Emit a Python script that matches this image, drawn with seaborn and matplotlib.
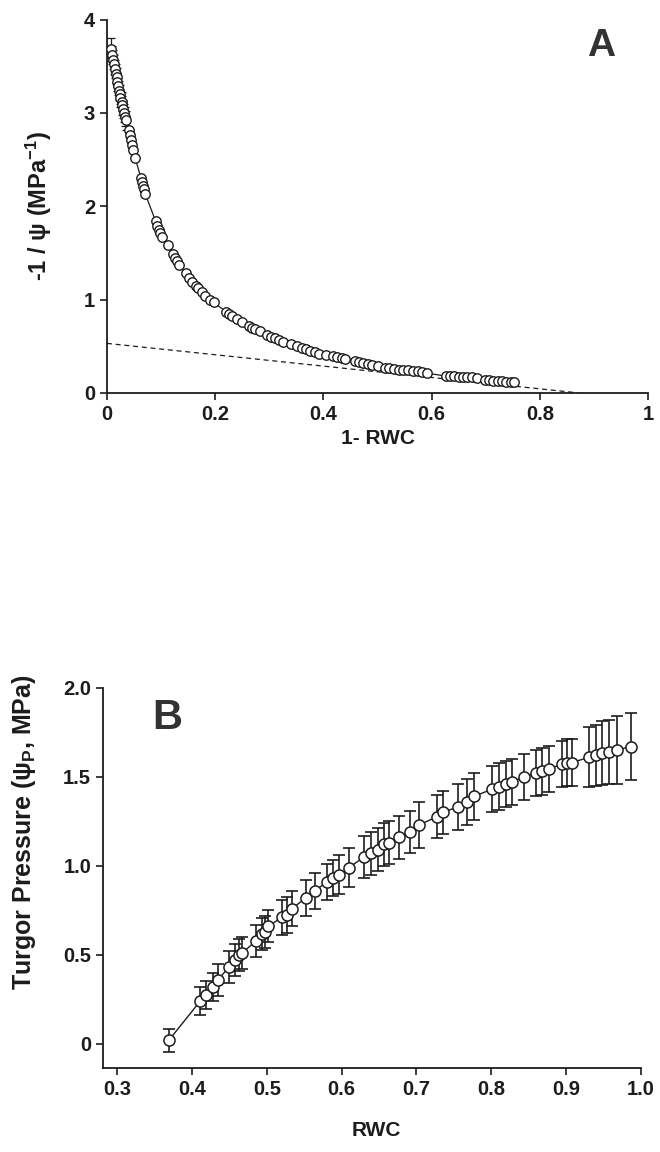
import numpy as np
import pandas as pd
import matplotlib
matplotlib.use("Agg")
import matplotlib.pyplot as plt
import seaborn as sns

sns.set_style("ticks")
plt.rcParams["font.family"] = ["Liberation Sans", "DejaVu Sans"]
plt.rcParams["font.weight"] = "bold"
plt.rcParams["mathtext.fontset"] = "custom"
plt.rcParams["mathtext.rm"] = "Liberation Sans:bold"
plt.rcParams["mathtext.it"] = "Liberation Sans:bold"
plt.rcParams["mathtext.bf"] = "Liberation Sans:bold"
plt.rcParams["mathtext.sf"] = "Liberation Sans"   # psi fino, como en el original
plt.rcParams["mathtext.default"] = "rm"

INK = "#1c1c1c"

# ============================================================
# Datos panel A: -1/psi frente a 1-RWC
# ============================================================
one_minus_rwc = [
    0.008, 0.010, 0.012, 0.013, 0.015, 0.016, 0.018, 0.019, 0.021, 0.022,
    0.024, 0.025, 0.027, 0.028, 0.030, 0.031, 0.033, 0.035,
    0.041, 0.043, 0.045, 0.047, 0.049, 0.052, 0.063, 0.065, 0.067, 0.069,
    0.071, 0.090, 0.093, 0.096, 0.099, 0.102, 0.112, 0.122, 0.126, 0.130,
    0.134, 0.146, 0.152, 0.158, 0.164, 0.168, 0.175, 0.182, 0.190, 0.197,
    0.220, 0.226, 0.232, 0.240, 0.250, 0.262, 0.268, 0.274, 0.282, 0.296,
    0.304, 0.310, 0.318, 0.326, 0.340, 0.352, 0.360, 0.368, 0.376, 0.384,
    0.392, 0.404, 0.418, 0.426, 0.434, 0.440, 0.458, 0.466, 0.474, 0.482,
    0.490, 0.500, 0.514, 0.522, 0.530, 0.540, 0.548, 0.556, 0.566, 0.574,
    0.582, 0.592, 0.626, 0.634, 0.642, 0.650, 0.658, 0.666, 0.674, 0.684,
    0.698, 0.706, 0.714, 0.722, 0.730, 0.738, 0.746, 0.752,
]
inv_psi = [
    3.68, 3.62, 3.57, 3.52, 3.47, 3.42, 3.38, 3.33, 3.29, 3.24,
    3.20, 3.16, 3.12, 3.08, 3.04, 3.00, 2.96, 2.92,
    2.82, 2.76, 2.71, 2.66, 2.60, 2.52, 2.30, 2.26, 2.22, 2.18,
    2.13, 1.84, 1.79, 1.75, 1.71, 1.67, 1.58, 1.49, 1.45, 1.41,
    1.37, 1.28, 1.23, 1.19, 1.15, 1.12, 1.08, 1.04, 1.00, 0.97,
    0.87, 0.85, 0.82, 0.79, 0.76, 0.72, 0.70, 0.68, 0.66, 0.62,
    0.60, 0.59, 0.57, 0.55, 0.52, 0.50, 0.48, 0.47, 0.45, 0.44,
    0.42, 0.41, 0.39, 0.38, 0.37, 0.36, 0.34, 0.33, 0.32, 0.31,
    0.30, 0.29, 0.27, 0.27, 0.26, 0.25, 0.25, 0.24, 0.23, 0.23,
    0.22, 0.21, 0.18, 0.18, 0.18, 0.17, 0.17, 0.17, 0.17, 0.16,
    0.14, 0.14, 0.13, 0.13, 0.13, 0.12, 0.12, 0.12,
]
# barras de error solo en los primeros puntos
err_a_x = one_minus_rwc[:18]
err_a_y = inv_psi[:18]
err_a = [0.12, 0.10, 0.10, 0.10, 0.10, 0.10, 0.10, 0.10, 0.10, 0.10,
         0.10, 0.10, 0.10, 0.10, 0.10, 0.10, 0.10, 0.10]

# recta extrapolada (punteada)
dash_x = [0.0, 0.87]
dash_y = [0.53, 0.0]

# ============================================================
# Datos panel B: presion de turgor frente a RWC
# ============================================================
rwc = [
    0.369, 0.411, 0.419, 0.428, 0.435, 0.449, 0.457, 0.463, 0.467, 0.486,
    0.493, 0.497, 0.502, 0.520, 0.527, 0.534, 0.552, 0.565, 0.580, 0.589,
    0.597, 0.610, 0.630, 0.639, 0.648, 0.656, 0.663, 0.677, 0.691, 0.704,
    0.727, 0.735, 0.755, 0.768, 0.777, 0.801, 0.811, 0.820, 0.828, 0.844,
    0.860, 0.868, 0.877, 0.895, 0.901, 0.908, 0.931, 0.940, 0.948, 0.957,
    0.968, 0.987,
]
turgor = [
    0.02, 0.24, 0.275, 0.32, 0.36, 0.43, 0.47, 0.50, 0.51, 0.58,
    0.615, 0.63, 0.66, 0.71, 0.725, 0.76, 0.82, 0.86, 0.91, 0.93,
    0.95, 0.99, 1.05, 1.07, 1.09, 1.12, 1.13, 1.16, 1.19, 1.23,
    1.275, 1.30, 1.33, 1.36, 1.39, 1.43, 1.445, 1.46, 1.47, 1.50,
    1.52, 1.53, 1.545, 1.57, 1.58, 1.58, 1.61, 1.62, 1.635, 1.64,
    1.65, 1.67,
]
turgor_err = [
    0.065, 0.08, 0.08, 0.08, 0.09, 0.09, 0.09, 0.09, 0.09, 0.09,
    0.09, 0.09, 0.09, 0.10, 0.10, 0.10, 0.10, 0.10, 0.10, 0.10,
    0.11, 0.11, 0.12, 0.12, 0.12, 0.12, 0.12, 0.12, 0.12, 0.13,
    0.12, 0.12, 0.13, 0.13, 0.13, 0.13, 0.13, 0.13, 0.13, 0.13,
    0.13, 0.13, 0.13, 0.13, 0.13, 0.13, 0.17, 0.17, 0.18, 0.18,
    0.19, 0.19,
]

df_a = pd.DataFrame({"x": one_minus_rwc, "y": inv_psi})
df_b = pd.DataFrame({"rwc": rwc, "tp": turgor})

fig = plt.figure(figsize=(6.6, 11.52), dpi=100)

# ============================================================
# Panel A
# ============================================================
axA = fig.add_axes([0.162, 0.659, 0.820, 0.324])
axA.plot(dash_x, dash_y, ls=(0, (4, 3)), color=INK, lw=0.9, zorder=1)
axA.errorbar(err_a_x, err_a_y, yerr=err_a, fmt="none", ecolor=INK,
             elinewidth=0.9, capsize=3, capthick=0.9, zorder=2)
sns.lineplot(data=df_a, x="x", y="y", color=INK, lw=0.9, sort=True,
             estimator=None, ax=axA, zorder=3)
sns.scatterplot(data=df_a, x="x", y="y", s=46, facecolor="white",
                edgecolor=INK, linewidth=1.0, ax=axA, zorder=4)
axA.set_xlim(0, 1)
axA.set_ylim(0, 4)
axA.set_xticks([0, 0.2, 0.4, 0.6, 0.8, 1.0])
axA.set_xticklabels(["0", "0.2", "0.4", "0.6", "0.8", "1"])
axA.set_yticks([0, 1, 2, 3, 4])
axA.set_yticklabels(["0", "1", "2", "3", "4"])
axA.set_xlabel("1- RWC", fontsize=15, fontweight="bold")
axA.set_ylabel(r"-1 / $\mathsf{\psi}$ (MPa$^{-1}$)", fontsize=17,
               fontweight="bold")
axA.xaxis.set_label_coords(0.5, -0.097)
axA.yaxis.set_label_coords(-0.098, 0.5)
axA.text(0.91, 0.96, "A", transform=fig.transFigure, fontsize=28,
         fontweight="bold", color="#333333", ha="center", va="center")

# ============================================================
# Panel B
# ============================================================
axB = fig.add_axes([0.156, 0.073, 0.815, 0.330])
axB.errorbar(rwc, turgor, yerr=turgor_err, fmt="none", ecolor=INK,
             elinewidth=1.2, capsize=4.5, capthick=1.2, zorder=2)
sns.lineplot(data=df_b, x="rwc", y="tp", color=INK, lw=1.0,
             estimator=None, ax=axB, zorder=3)
sns.scatterplot(data=df_b, x="rwc", y="tp", s=64, facecolor="white",
                edgecolor=INK, linewidth=1.1, ax=axB, zorder=4)
axB.set_xlim(0.281, 1.0)
axB.set_ylim(-0.135, 2.0)
axB.set_xticks([0.3, 0.4, 0.5, 0.6, 0.7, 0.8, 0.9, 1.0])
axB.set_xticklabels(["0.3", "0.4", "0.5", "0.6", "0.7", "0.8", "0.9", "1.0"])
axB.set_yticks([0, 0.5, 1.0, 1.5, 2.0])
axB.set_yticklabels(["0", "0.5", "1.0", "1.5", "2.0"])
axB.set_xlabel("RWC", fontsize=15, fontweight="bold")
axB.set_ylabel(r"Turgor Pressure ($\mathsf{\psi}_{P}$, MPa)", fontsize=18,
               fontweight="bold")
axB.xaxis.set_label_coords(0.509, -0.14)
axB.yaxis.set_label_coords(-0.12, 0.62)
axB.text(0.253, 0.377, "B", transform=fig.transFigure, fontsize=30,
         fontweight="bold", color="#333333", ha="center", va="center")

for ax in (axA, axB):
    sns.despine(ax=ax)
    for s in ("left", "bottom"):
        ax.spines[s].set_color(INK)
        ax.spines[s].set_linewidth(1.3)
    ax.tick_params(direction="out", length=5, width=1.2, colors=INK,
                   labelsize=14.5)
    for lab in ax.get_xticklabels() + ax.get_yticklabels():
        lab.set_fontweight("bold")
    ax.xaxis.label.set_color(INK)
    ax.yaxis.label.set_color(INK)

fig.savefig("out.png", dpi=100)
plt.close(fig)
